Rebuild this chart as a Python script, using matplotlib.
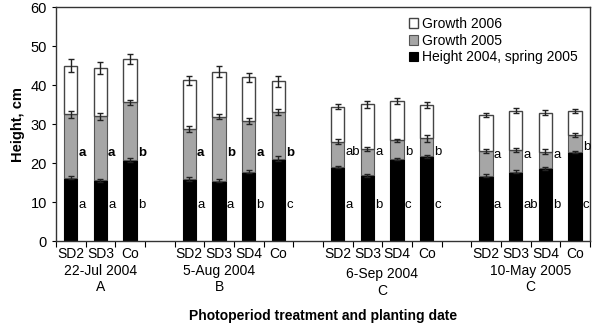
import matplotlib
matplotlib.use("Agg")
import matplotlib.pyplot as plt
import numpy as np

plt.rcParams['font.family'] = ['Liberation Sans', 'DejaVu Sans']

# ---- data ----
categories = ["SD2", "SD3", "Co",
              "SD2", "SD3", "SD4", "Co",
              "SD2", "SD3", "SD4", "Co",
              "SD2", "SD3", "SD4", "Co"]
group_of_bar = [0, 0, 0, 1, 1, 1, 1, 2, 2, 2, 2, 3, 3, 3, 3]
dates = ["22-Jul 2004", "5-Aug 2004", "6-Sep 2004", "10-May 2005"]
date_letters = ["A", "B", "C", "C"]

# cumulative tops
height_2004 = [16.3, 15.7, 20.8, 15.9, 15.6, 17.9, 21.2, 19.0, 16.9, 21.1, 21.8, 16.8, 17.9, 18.8, 23.0]
top_2005 = [32.6, 32.1, 35.6, 28.9, 32.0, 30.8, 33.1, 25.6, 23.8, 25.9, 26.4, 23.2, 23.4, 23.0, 27.3]
top_2006 = [45.0, 44.5, 46.8, 41.3, 43.5, 42.0, 41.0, 34.5, 35.1, 36.0, 34.9, 32.4, 33.5, 33.0, 33.4]

err_2004 = [0.4, 0.4, 0.5, 0.5, 0.4, 0.4, 0.6, 0.3, 0.4, 0.3, 0.4, 0.4, 0.4, 0.4, 0.3]
err_2005 = [0.9, 0.9, 0.7, 0.8, 0.6, 0.7, 0.8, 0.6, 0.5, 0.4, 0.8, 0.6, 0.6, 0.6, 0.5]
err_2006 = [1.7, 1.5, 1.3, 1.2, 1.5, 1.2, 1.35, 0.6, 0.8, 0.8, 0.7, 0.5, 0.6, 0.6, 0.6]

letters_2004 = ["a", "a", "b", "a", "a", "b", "c", "a", "b", "c", "c", "a", "ab", "b", "c"]
letters_2005 = ["a", "a", "b", "a", "b", "a", "b", "ab", "a", "b", "b", "a", "a", "a", "b"]
bold_2005 = [True] * 7 + [False] * 8

growth_2005 = [t - b for t, b in zip(top_2005, height_2004)]
growth_2006 = [t - b for t, b in zip(top_2006, top_2005)]

# ---- layout: 18 slots, bars skip one slot between groups ----
slots = np.array([g + i for i, g in enumerate(group_of_bar)], dtype=float)

fig = plt.figure(figsize=(5.94, 3.27), dpi=100)
ax = fig.add_axes([0.094, 0.2615, 0.899, 0.7165])

w = 0.45
ekw = dict(ecolor="#222222", elinewidth=1.0, capsize=2.3, capthick=1.0)
ax.bar(slots, height_2004, w, color="black", edgecolor="black", linewidth=0.8,
       label="Height 2004, spring 2005", zorder=2)
ax.bar(slots, growth_2005, w, bottom=height_2004, color="#a6a6a6", edgecolor="#555555",
       linewidth=0.8, label="Growth 2005", zorder=2)
ax.bar(slots, growth_2006, w, bottom=top_2005, color="white", edgecolor="#444444",
       linewidth=1.0, label="Growth 2006", zorder=2)
ax.errorbar(slots, height_2004, yerr=err_2004, fmt="none", zorder=3, **ekw)
ax.errorbar(slots, top_2005, yerr=err_2005, fmt="none", zorder=3, **ekw)
ax.errorbar(slots, top_2006, yerr=err_2006, fmt="none", zorder=3, **ekw)

# significance letters
gray_letter_y = [22.6, 22.6, 22.8, 22.2]
for i, x in enumerate(slots):
    g = group_of_bar[i]
    ax.text(x + 0.26, 9.3, letters_2004[i], ha="left", va="center", fontsize=9.5)
    y2 = gray_letter_y[g]
    if g == 3 and categories[i] == "Co":
        y2 = 24.2
    ax.text(x + 0.26, y2, letters_2005[i], ha="left", va="center", fontsize=9.5,
            fontweight="bold" if bold_2005[i] else "normal")

ax.set_xlim(-0.5, 17.5)
ax.set_ylim(0, 60)
ax.set_yticks(np.arange(0, 61, 10))
ax.tick_params(axis="y", labelsize=10.5, length=3, direction="out")
ax.set_xticks(np.arange(-0.5, 18.0, 1.0))
ax.set_xticklabels([])
ax.tick_params(axis="x", length=4, direction="out")
for s in ax.spines.values():
    s.set_color("#333333")
    s.set_linewidth(1.0)

# category labels and dates beneath the axis
trans = ax.get_xaxis_transform()
for i, x in enumerate(slots):
    ax.text(x, -0.055, categories[i], transform=trans, ha="center", va="center", fontsize=10)
date_x = [1.0, 5.0, 10.5, 15.5]
date_dy = [0.0, 0.0, -0.015, 0.0]
for g in range(4):
    ax.text(date_x[g], -0.125 + date_dy[g], dates[g], transform=trans, ha="center",
            va="center", fontsize=10)
    ax.text(date_x[g], -0.195 + date_dy[g], date_letters[g], transform=trans, ha="center",
            va="center", fontsize=10)

ax.set_xlabel("Photoperiod treatment and planting date", fontsize=10, fontweight="bold",
              labelpad=0)
ax.xaxis.set_label_coords(0.5, -0.29)
ax.set_ylabel("Height, cm", fontsize=10.5, fontweight="bold", labelpad=4)

handles, labels = ax.get_legend_handles_labels()
ax.legend(handles[::-1], labels[::-1], loc="upper right", bbox_to_anchor=(0.995, 1.0),
          frameon=False, fontsize=10, handlelength=0.7, handleheight=0.7,
          handletextpad=0.25, labelspacing=0.2, borderaxespad=0.3)

fig.savefig("out.png", dpi=100)
